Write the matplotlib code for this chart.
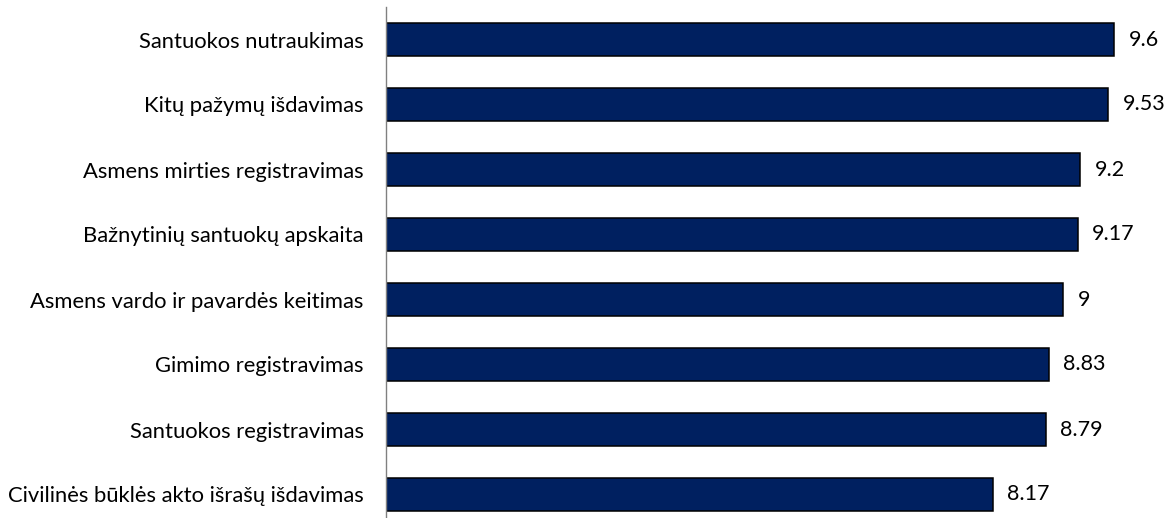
import matplotlib.pyplot as plt

categories = [
    "Santuokos nutraukimas",
    "Kitų pažymų išdavimas",
    "Asmens mirties registravimas",
    "Bažnytinių santuokų apskaita",
    "Asmens vardo ir pavardės keitimas",
    "Gimimo registravimas",
    "Santuokos registravimas",
    "Civilinės būklės akto išrašų išdavimas",
]
scores = [9.6, 9.53, 9.2, 9.17, 9.0, 8.83, 8.79, 8.17]
score_labels = ["9.6", "9.53", "9.2", "9.17", "9", "8.83", "8.79", "8.17"]

BASE = 1.0

plt.rcParams["font.family"] = ["Lato", "DejaVu Sans"]

fig = plt.figure(figsize=(11.67, 5.18), dpi=100)
ax = fig.add_axes([386 / 1167, -9 / 518, 762 / 1167, 520 / 518])

ypos = list(range(len(categories)))
widths = [s - BASE for s in scores]
ax.barh(ypos, widths, left=BASE, height=0.51, color="#002060",
        edgecolor="black", linewidth=1.1)

for y, s, lab in zip(ypos, scores, score_labels):
    ax.text(s + 0.17, y, lab, va="center", ha="left", fontsize=15.5, color="black")

ax.set_xlim(BASE, 10)
ax.set_ylim(len(categories) - 0.5, -0.5)
ax.set_yticks(ypos)
ax.set_yticklabels(categories, fontsize=15.8)
ax.tick_params(axis="y", length=0, pad=16)
ax.set_xticks([])

for side in ["top", "right", "bottom"]:
    ax.spines[side].set_visible(False)
ax.spines["left"].set_color("#808080")
ax.spines["left"].set_linewidth(1.0)

fig.savefig("out.png", dpi=100)
